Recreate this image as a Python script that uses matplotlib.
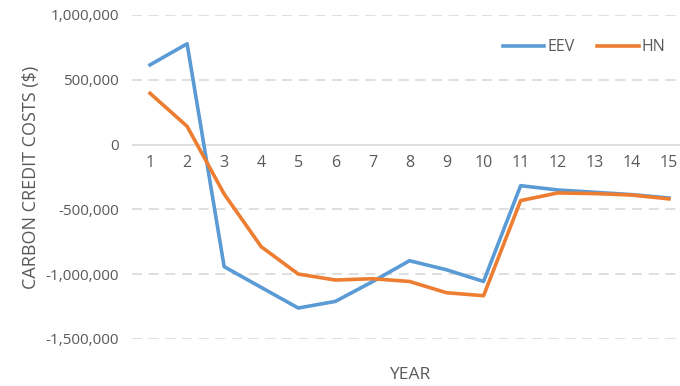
import matplotlib
matplotlib.use("Agg")
import matplotlib.pyplot as plt
from matplotlib.ticker import FuncFormatter

years = list(range(1, 16))
eev = [615000, 778000, -942000, -1102000, -1261000, -1210000, -1058000, -896000,
       -966000, -1056000, -317000, -350000, -368000, -386000, -412000]
hn = [396000, 141000, -381000, -788000, -999000, -1045000, -1035000, -1056000,
      -1143000, -1166000, -432000, -373000, -378000, -389000, -419000]
yticks = [1000000, 500000, 0, -500000, -1000000, -1500000]

plt.rcParams["font.family"] = ["Open Sans", "DejaVu Sans"]
text_color = "#595959"

fig = plt.figure(figsize=(6.8, 3.86), dpi=100)
ax = fig.add_axes([131.5 / 680, 1 - 339 / 386, 1 - 131.5 / 680, (339 - 15) / 386])

ax.plot(years, eev, color="#5B9BD5", lw=2.6, label="EEV")
ax.plot(years, hn, color="#ED7D31", lw=2.6, label="HN")

ax.set_xlim(0.5, 15.3)
ax.set_ylim(-1500000, 1000000)
ax.set_yticks(yticks)
ax.yaxis.set_major_formatter(FuncFormatter(lambda v, p: f"{int(v):,}"))
for y in yticks:
    if y != 0:
        ax.axhline(y, color="#D9D9D9", lw=1.2, ls=(0, (6, 4)), zorder=0)
ax.axhline(0, color="#D9D9D9", lw=1.2, zorder=0)

ax.set_xticks([])
for yr in years:
    ax.text(yr, -80000, str(yr), ha="center", va="top", fontsize=11.5, color=text_color)

for s in ax.spines.values():
    s.set_visible(False)
ax.tick_params(axis="y", length=0, labelsize=11, labelcolor=text_color, pad=9)

ax.set_ylabel("CARBON CREDIT COSTS ($)", fontsize=13, color=text_color, labelpad=4)
fig.text(410 / 680, 1 - 375 / 386, "YEAR", ha="center", va="center", fontsize=12.5, color=text_color)

leg = ax.legend(loc="upper right", bbox_to_anchor=(1.0, 0.97), ncol=2, frameon=False,
                fontsize=11.5, handlelength=2.6, columnspacing=1.4, handletextpad=0.2)
for t in leg.get_texts():
    t.set_color(text_color)

fig.savefig("out.png", dpi=100)
